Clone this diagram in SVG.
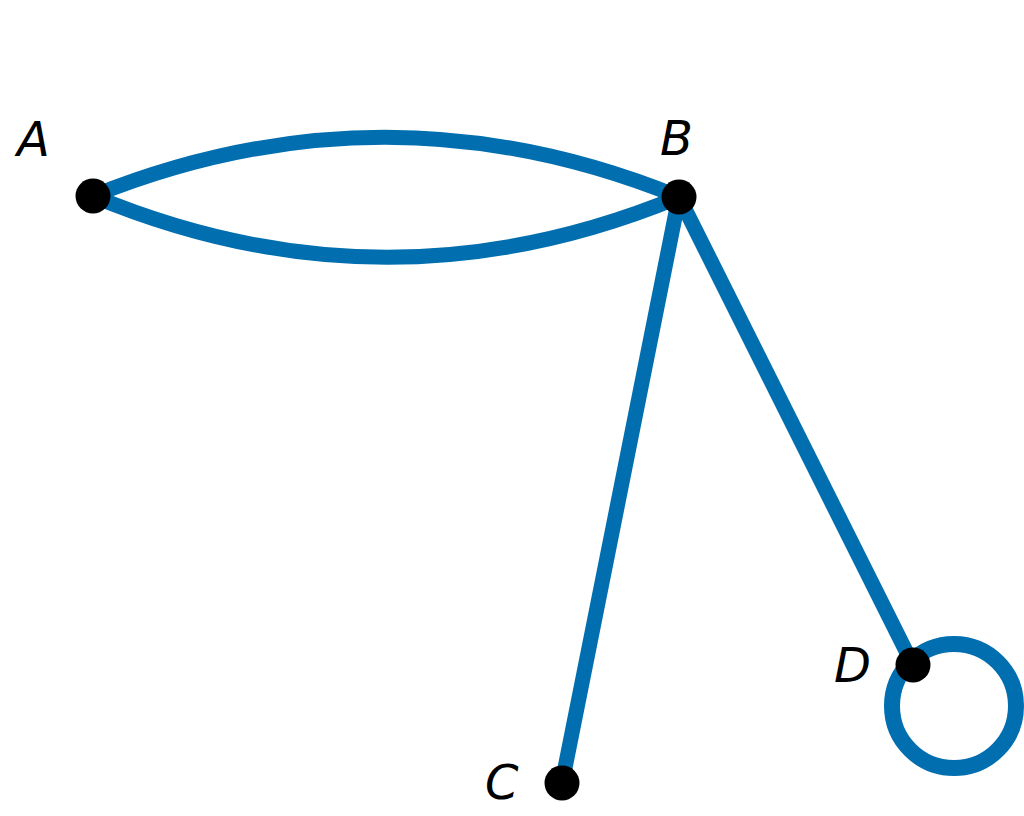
<svg xmlns="http://www.w3.org/2000/svg" width="1024" height="816" viewBox="0 0 1024 816">
<style>
.e{fill:none;stroke:#006EAF;stroke-width:15;stroke-linecap:round}
.n{fill:#000}
.l{font-family:"DejaVu Sans",sans-serif;font-style:italic;font-size:48px;fill:#000}
</style>
<rect width="1024" height="816" fill="#fff"/>
<g id="edges">
<path class="e" d="M93,196 Q386,78 679,197"/>
<path class="e" d="M93,196 Q386,318 679,197"/>
<path class="e" d="M679,197 L562,783"/>
<path class="e" d="M679,197 L913,665"/>
<circle class="e" cx="954" cy="706" r="62" style="stroke-width:16"/>
</g>
<g id="A"><circle class="n" cx="93" cy="196" r="17.5"/><text class="l" x="17" y="156">A</text></g>
<g id="B"><circle class="n" cx="679" cy="197" r="17.5"/><text class="l" x="660" y="155">B</text></g>
<g id="C"><circle class="n" cx="562" cy="783" r="17.5"/><text class="l" x="485" y="799">C</text></g>
<g id="D"><circle class="n" cx="913" cy="665" r="17.5"/><text class="l" x="834" y="682">D</text></g>
</svg>
